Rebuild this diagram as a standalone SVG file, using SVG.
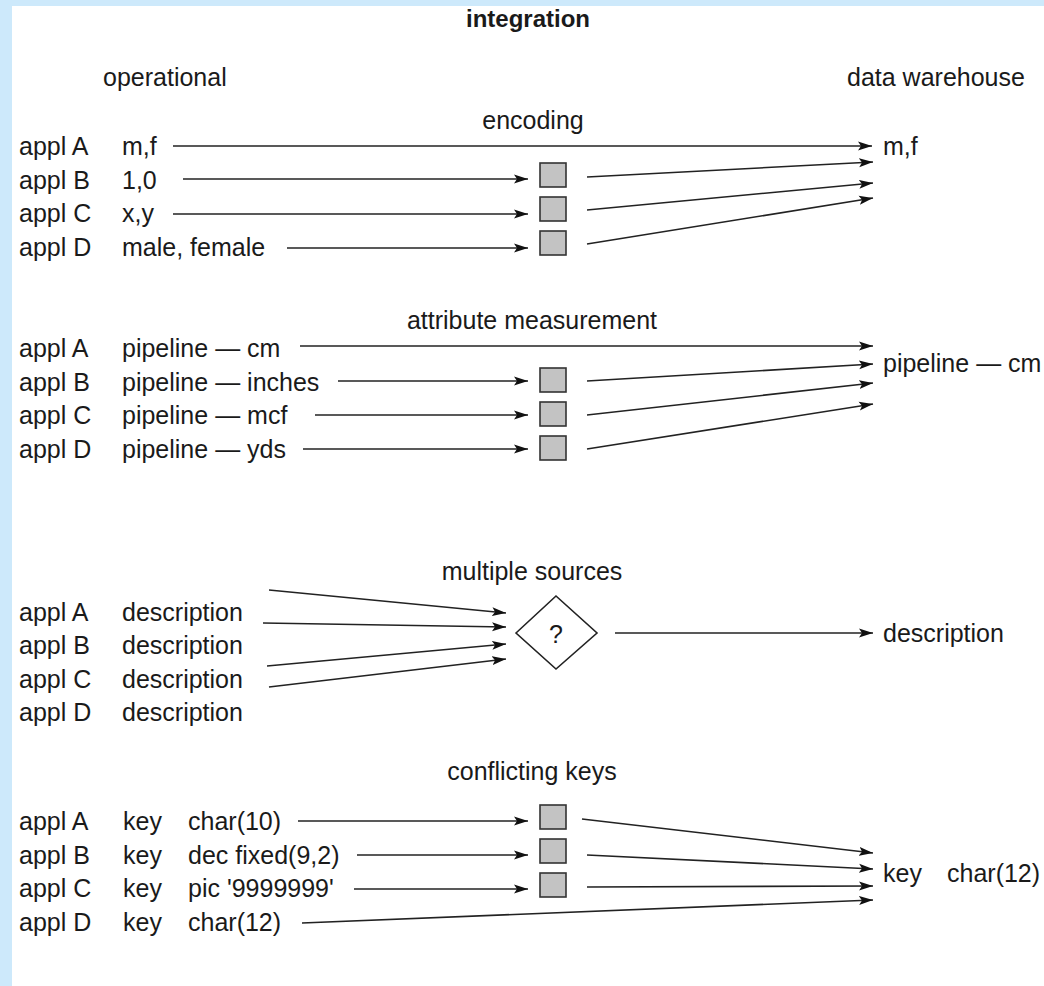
<svg xmlns="http://www.w3.org/2000/svg" width="1044" height="986" viewBox="0 0 1044 986">
<defs>
<style>
text{font-family:"Liberation Sans",Arial,Helvetica,sans-serif;font-size:25px;fill:#1a1a1a}
.t{font-weight:bold;font-size:24px}
.c{text-anchor:middle}
.ln{stroke:#222;stroke-width:1.6;fill:none}
.ar{marker-end:url(#ah)}
.bx{fill:#c3c3c3;stroke:#333;stroke-width:1.6}
</style>
<marker id="ah" markerUnits="userSpaceOnUse" markerWidth="15" markerHeight="10" refX="14" refY="5" orient="auto">
<path d="M0,0.5 L14,5 L0,9.5 L3,5 z" fill="#111"/>
</marker>
</defs>
<rect x="0" y="0" width="1044" height="986" fill="#ffffff"/>
<rect x="0" y="0" width="1044" height="6" fill="#cde9fb"/>
<rect x="0" y="0" width="12" height="986" fill="#cde9fb"/>

<g id="headers">
<text class="t c" x="528" y="27">integration</text>
<text x="103" y="86">operational</text>
<text x="847" y="86">data warehouse</text>
</g>

<g id="encoding">
<text class="c" x="533" y="129">encoding</text>
<text x="19" y="155">appl A</text><text x="122" y="155">m,f</text>
<text x="19" y="189">appl B</text><text x="122" y="189">1,0</text>
<text x="19" y="222">appl C</text><text x="122" y="222">x,y</text>
<text x="19" y="256">appl D</text><text x="122" y="256">male, female</text>
<text x="883" y="155">m,f</text>
</g>
<g id="enc-boxes">
<rect class="bx" x="540" y="163" width="26" height="24"/>
<rect class="bx" x="540" y="197" width="26" height="24"/>
<rect class="bx" x="540" y="231" width="26" height="24"/>
</g>

<g id="attribute">
<text class="c" x="532" y="329">attribute measurement</text>
<text x="19" y="357">appl A</text><text x="122" y="357">pipeline — cm</text>
<text x="19" y="391">appl B</text><text x="122" y="391">pipeline — inches</text>
<text x="19" y="424">appl C</text><text x="122" y="424">pipeline — mcf</text>
<text x="19" y="458">appl D</text><text x="122" y="458">pipeline — yds</text>
<text x="883" y="372">pipeline — cm</text>
</g>
<g id="attr-boxes">
<rect class="bx" x="540" y="368" width="26" height="24"/>
<rect class="bx" x="540" y="402" width="26" height="24"/>
<rect class="bx" x="540" y="436" width="26" height="24"/>
</g>

<g id="multiple">
<text class="c" x="532" y="580">multiple sources</text>
<text x="19" y="621">appl A</text><text x="122" y="621">description</text>
<text x="19" y="654">appl B</text><text x="122" y="654">description</text>
<text x="19" y="688">appl C</text><text x="122" y="688">description</text>
<text x="19" y="721">appl D</text><text x="122" y="721">description</text>
<text x="883" y="642">description</text>
</g>
<g id="decision">
<polygon points="516,633 556,596 597,633 556,669" fill="#fff" stroke="#222" stroke-width="1.6"/>
<text class="c" x="556" y="643">?</text>
</g>

<g id="keys">
<text class="c" x="532" y="780">conflicting keys</text>
<text x="19" y="830">appl A</text><text x="123" y="830">key</text><text x="188" y="830">char(10)</text>
<text x="19" y="864">appl B</text><text x="123" y="864">key</text><text x="188" y="864">dec fixed(9,2)</text>
<text x="19" y="897">appl C</text><text x="123" y="897">key</text><text x="188" y="897">pic '9999999'</text>
<text x="19" y="931">appl D</text><text x="123" y="931">key</text><text x="188" y="931">char(12)</text>
<text x="883" y="882">key</text><text x="947" y="882">char(12)</text>
</g>
<g id="key-boxes">
<rect class="bx" x="540" y="805" width="26" height="24"/>
<rect class="bx" x="540" y="839" width="26" height="24"/>
<rect class="bx" x="540" y="873" width="26" height="24"/>
</g>

<g id="connectors" class="ln">
<line class="ar" x1="173" y1="146" x2="872" y2="146"/>
<line class="ar" x1="183" y1="179" x2="528" y2="179"/>
<line class="ar" x1="173" y1="214" x2="528" y2="214"/>
<line class="ar" x1="287" y1="248" x2="528" y2="248"/>
<line class="ar" x1="587" y1="177" x2="873" y2="162"/>
<line class="ar" x1="587" y1="210" x2="873" y2="183"/>
<line class="ar" x1="587" y1="244" x2="873" y2="198"/>

<line class="ar" x1="300" y1="346" x2="873" y2="346"/>
<line class="ar" x1="338" y1="381" x2="528" y2="381"/>
<line class="ar" x1="315" y1="415" x2="528" y2="415"/>
<line class="ar" x1="303" y1="449" x2="528" y2="449"/>
<line class="ar" x1="587" y1="381" x2="873" y2="364"/>
<line class="ar" x1="587" y1="415" x2="873" y2="383"/>
<line class="ar" x1="587" y1="449" x2="873" y2="404"/>

<line class="ar" x1="269" y1="590" x2="506" y2="613"/>
<line class="ar" x1="263" y1="623" x2="506" y2="627"/>
<line class="ar" x1="267" y1="666" x2="506" y2="644"/>
<line class="ar" x1="269" y1="687" x2="506" y2="659"/>
<line class="ar" x1="615" y1="633" x2="873" y2="633"/>

<line class="ar" x1="298" y1="821" x2="528" y2="821"/>
<line class="ar" x1="357" y1="855" x2="528" y2="855"/>
<line class="ar" x1="354" y1="889" x2="528" y2="889"/>
<line class="ar" x1="302" y1="923" x2="873" y2="900"/>
<line class="ar" x1="582" y1="819" x2="873" y2="853"/>
<line class="ar" x1="587" y1="855" x2="873" y2="869"/>
<line class="ar" x1="587" y1="887" x2="873" y2="886"/>
</g>
</svg>
